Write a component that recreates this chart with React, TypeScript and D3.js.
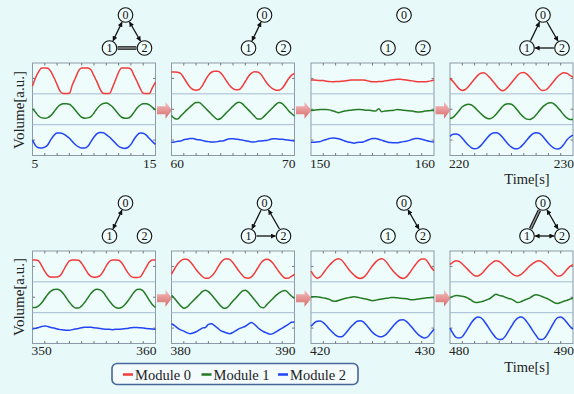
import { useEffect, useRef } from "react";
import * as d3 from "d3";

// start time of every 10 s window (panels left-to-right, top row then bottom row)
const starts = [5, 60, 150, 220, 350, 380, 420, 480];
const step = 0.25;

// band values, 0 = bottom of band, 100 = top of band
const p1Red = [25,52,72,84,84,83,72,52,30,8,1,1,2,30,52,75,84,84,84,78,58,38,15,2,1,1,20,45,70,84,84,84,80,60,40,18,2,1,1,20,38];
const p1Green = [52,40,28,22,21,23,30,42,55,64,68,68,66,58,46,34,24,21,22,26,38,52,63,69,70,66,58,46,34,24,21,21,27,40,54,63,68,68,64,56,48];
const p1Blue = [50,32,25,24,27,35,52,66,73,73,70,64,56,45,35,28,24,24,30,45,60,71,75,74,68,60,50,40,30,25,23,26,36,52,66,73,72,66,55,45,36];

const p2Red = [71,71,70,66,52,36,22,14,12,14,26,44,60,70,73,73,68,55,40,26,17,13,14,24,40,56,67,72,71,64,50,35,24,16,12,12,18,32,48,60,66];
const p2Green = [30,20,18,28,38,48,57,66,72,72,64,54,44,34,24,17,20,30,40,50,60,69,73,68,58,48,38,27,18,18,26,36,46,56,66,72,68,58,46,36,28];
const p2Blue = [43,44,46,47,51,53,55,55,52,51,49,46,45,44,44,45,47,48,52,54,54,53,52,50,48,46,44,44,46,47,48,49,52,54,54,53,53,51,50,49,47];

const p3Red = [45,45,44,43,43,41,40,39,40,40,41,42,43,45,45,45,45,45,43,41,39,39,40,40,42,43,45,46,47,47,46,45,43,42,40,39,39,39,40,42,45];
const p3Green = [46,47,48,49,49,49,48,45,42,39,42,44,46,47,48,49,49,48,47,47,45,44,52,42,44,45,46,47,49,48,47,46,45,44,42,41,42,44,45,46,46];
const p3Blue = [43,43,44,45,49,52,55,57,56,54,51,47,44,42,40,42,43,44,48,52,55,55,53,50,46,43,42,41,41,43,45,46,49,53,55,55,53,50,47,45,44];

const p4Red = [50,40,28,16,11,14,24,36,48,60,67,68,62,52,40,28,16,10,14,24,36,48,60,68,69,64,54,42,30,18,11,12,20,32,44,56,64,68,67,60,54];
const p4Green = [20,24,34,46,58,64,66,64,56,46,36,27,21,19,24,34,46,58,66,68,66,58,46,34,24,18,17,22,32,44,56,64,70,71,66,56,44,32,22,17,17];
const p4Blue = [62,69,70,66,56,44,33,25,22,24,32,44,56,67,73,74,70,60,48,36,27,22,22,28,38,50,62,71,74,72,64,52,40,30,23,21,25,36,50,60,66];

const p5Red = [71,71,68,52,34,20,15,16,16,20,36,54,68,71,71,70,60,44,28,18,15,16,20,34,52,66,71,71,70,62,46,30,18,14,14,16,30,48,64,71,71];
const p5Green = [17,17,22,32,46,60,70,75,76,72,62,48,34,22,15,15,22,34,48,62,72,76,74,66,52,38,26,17,14,17,26,38,52,66,75,76,70,56,40,26,17];
const p5Blue = [47,49,52,55,57,55,52,50,47,45,44,43,43,45,47,49,51,53,53,53,51,50,49,47,46,46,45,46,46,47,48,49,51,52,52,51,50,49,48,47,46];

const p6Red = [25,42,58,68,73,73,66,54,40,28,18,12,12,18,30,46,62,72,75,72,62,48,34,22,13,12,16,28,44,60,70,73,70,60,46,32,20,12,12,18,24];
const p6Green = [56,46,34,22,14,18,28,38,48,58,68,73,68,58,46,34,22,14,16,26,38,48,60,70,73,66,54,42,30,18,16,26,36,46,56,64,70,72,64,54,46];
const p6Blue = [64,58,50,44,40,35,32,34,38,44,50,52,62,64,58,50,42,38,34,32,36,42,48,52,56,63,68,62,52,44,38,34,30,32,38,44,50,56,62,69,70];

const p7Red = [35,20,12,16,28,42,54,64,72,75,70,58,44,32,22,14,11,14,24,38,52,64,72,75,70,58,44,32,22,14,11,16,28,42,56,68,74,74,64,48,36];
const p7Green = [52,52,51,50,48,46,43,38,37,40,43,46,48,50,52,50,48,46,44,41,39,40,43,44,46,47,49,49,48,47,46,45,43,42,43,44,46,47,48,49,49];
const p7Blue = [56,66,72,73,68,58,46,36,27,22,22,30,42,54,64,72,74,70,60,48,36,28,23,22,26,36,48,60,70,76,77,72,62,50,38,28,21,18,22,34,46];

const p8Red = [56,64,68,66,58,48,38,28,20,19,24,34,46,56,64,68,66,58,48,38,28,21,19,23,32,42,52,60,66,68,64,56,46,36,26,19,20,28,40,50,56];
const p8Green = [48,53,56,55,53,51,46,40,34,33,35,38,42,46,54,60,56,54,50,46,44,38,33,35,40,44,48,55,58,56,52,48,44,38,32,30,33,37,40,44,47];
const p8Blue = [50,32,20,18,22,36,52,68,80,86,84,74,60,44,30,18,13,14,24,40,56,72,82,86,82,70,56,40,26,14,13,20,36,54,72,84,86,80,68,56,46];

const series = [
  [p1Red, p1Green, p1Blue], [p2Red, p2Green, p2Blue], [p3Red, p3Green, p3Blue], [p4Red, p4Green, p4Blue],
  [p5Red, p5Green, p5Blue], [p6Red, p6Green, p6Blue], [p7Red, p7Green, p7Blue], [p8Red, p8Green, p8Blue],
];

// coupling graph above each panel: [from, to, kind]
const edges: [number, number, string][][] = [
  [[0, 1, "both"], [0, 2, "both"], [1, 2, "bar"]],
  [[0, 1, "both"]],
  [],
  [[1, 0, "one"], [0, 2, "one"], [2, 1, "one"]],
  [[0, 1, "both"]],
  [[0, 1, "one"], [1, 2, "one"], [2, 0, "one"]],
  [[0, 2, "both"]],
  [[0, 1, "bar"], [0, 2, "both"], [1, 2, "both"]],
];

const legendLabels = ["Module 0", "Module 1", "Module 2"];
const colors = ["#f23b3b", "#237a23", "#2244f5"];

const W = 574, H = 394;
const FONT = "'Liberation Serif', 'Times New Roman', 'DejaVu Serif', serif";

export default function App() {
  const svgRef = useRef<SVGSVGElement>(null);

  useEffect(() => {
    const svg = d3.select(svgRef.current);
    svg.selectAll("*").remove();

    svg.append("rect").attr("width", W).attr("height", H).attr("fill", "#e7f9f9");

    const defs = svg.append("defs");
    const grad = defs.append("linearGradient").attr("id", "pink").attr("x1", 0).attr("y1", 0).attr("x2", 0).attr("y2", 1);
    grad.append("stop").attr("offset", "0%").attr("stop-color", "#f6c0c0");
    grad.append("stop").attr("offset", "100%").attr("stop-color", "#d66a6a");
    defs.append("marker")
      .attr("id", "ah").attr("viewBox", "0 0 10 10").attr("refX", 9).attr("refY", 5)
      .attr("markerWidth", 5.5).attr("markerHeight", 5).attr("markerUnits", "userSpaceOnUse")
      .attr("orient", "auto-start-reverse")
      .append("path").attr("d", "M0,0 L10,5 L0,10 z").attr("fill", "#111");

    const pw = 123, ph = 92.5;
    const lefts = [32.5, 171.5, 311, 450];
    const tops = [63, 251];
    const nodeY = [[15, 48], [203, 236]];

    starts.forEach((t0, p) => {
      const row = Math.floor(p / 4), col = p % 4;
      const left = lefts[col], top = tops[row];
      const x = d3.scaleLinear().domain([t0, t0 + 10]).range([left, left + pw]);
      const g = svg.append("g");

      g.append("rect").attr("x", left).attr("y", top).attr("width", pw).attr("height", ph)
        .attr("fill", "#eefcfc").attr("stroke", "#8d9ba8").attr("stroke-width", 1);

      const bh = ph / 3;
      [1, 2].forEach((k) => {
        g.append("line").attr("x1", left).attr("x2", left + pw)
          .attr("y1", top + k * bh).attr("y2", top + k * bh)
          .attr("stroke", "#a6bad0").attr("stroke-width", 1);
      });

      // inner ticks
      d3.range(1, 10).forEach((s) => {
        const xx = x(t0 + s);
        g.append("line").attr("x1", xx).attr("x2", xx).attr("y1", top).attr("y2", top + 2.5).attr("stroke", "#777");
        g.append("line").attr("x1", xx).attr("x2", xx).attr("y1", top + ph).attr("y2", top + ph - 2.5).attr("stroke", "#777");
      });
      [0, 1, 2].forEach((k) => {
        const yy = top + k * bh + bh / 2;
        g.append("line").attr("x1", left).attr("x2", left + 2.5).attr("y1", yy).attr("y2", yy).attr("stroke", "#777");
        g.append("line").attr("x1", left + pw).attr("x2", left + pw - 2.5).attr("y1", yy).attr("y2", yy).attr("stroke", "#777");
      });

      series[p].forEach((vals, k) => {
        const y = d3.scaleLinear().domain([0, 100]).range([top + (k + 1) * bh, top + k * bh]);
        const ln = d3.line<number>()
          .x((_, i) => x(t0 + i * step))
          .y((v) => y(v))
          .curve(d3.curveMonotoneX);
        g.append("path").attr("d", ln(vals)).attr("fill", "none")
          .attr("stroke", colors[k]).attr("stroke-width", 1.5).attr("stroke-linejoin", "round");
      });

      const ly = row === 0 ? 168 : 355;
      g.append("text").attr("x", left - 1).attr("y", ly).text(t0)
        .style("font-family", FONT).attr("font-size", 13.5).attr("fill", "#222");
      g.append("text").attr("x", left + pw + 1).attr("y", ly).attr("text-anchor", "end").text(t0 + 10)
        .style("font-family", FONT).attr("font-size", 13.5).attr("fill", "#222");

      // block arrow to next panel
      if (col < 3) {
        const x0 = left + pw + 1.5, x1 = lefts[col + 1] + 0.5, cy = top + ph / 2 + 1;
        g.append("path")
          .attr("d", `M${x0},${cy - 4} L${x0 + 8.5},${cy - 4} L${x0 + 8.5},${cy - 8.5} L${x1},${cy} L${x0 + 8.5},${cy + 8.5} L${x0 + 8.5},${cy + 4} L${x0},${cy + 4} Z`)
          .attr("fill", "url(#pink)");
      }

      // network
      const R = left + pw;
      const nodes = [
        [R - 30, nodeY[row][0]],
        [R - 46, nodeY[row][1]],
        [R - 11, nodeY[row][1]],
      ];
      const r = 7.3;
      edges[p].forEach(([a, b, kind]) => {
        const [ax, ay] = nodes[a], [bx, by] = nodes[b];
        const d = Math.hypot(bx - ax, by - ay);
        const ux = (bx - ax) / d, uy = (by - ay) / d;
        const sx = ax + ux * (r + 0.8), sy = ay + uy * (r + 0.8);
        const ex = bx - ux * (r + 0.8), ey = by - uy * (r + 0.8);
        if (kind === "bar") {
          g.append("line").attr("x1", sx).attr("y1", sy).attr("x2", ex).attr("y2", ey)
            .attr("stroke", "#111").attr("stroke-width", 3.6);
          g.append("line").attr("x1", sx).attr("y1", sy).attr("x2", ex).attr("y2", ey)
            .attr("stroke", "#9a9a9a").attr("stroke-width", 1.4);
        } else {
          const l = g.append("line").attr("x1", sx).attr("y1", sy).attr("x2", ex).attr("y2", ey)
            .attr("stroke", "#111").attr("stroke-width", 1.3)
            .attr("marker-end", "url(#ah)");
          if (kind === "both") l.attr("marker-start", "url(#ah)");
        }
      });
      nodes.forEach(([nx, ny], k) => {
        g.append("circle").attr("cx", nx).attr("cy", ny).attr("r", r)
          .attr("fill", "#eefcfc").attr("stroke", "#111").attr("stroke-width", 1.1);
        g.append("text").attr("x", nx).attr("y", ny + 4).attr("text-anchor", "middle").text(k)
          .style("font-family", FONT).attr("font-size", 12).attr("fill", "#111");
      });
    });

    // axis titles
    [110, 297].forEach((cy) => {
      svg.append("text").attr("transform", `translate(24,${cy}) rotate(-90)`)
        .attr("text-anchor", "middle").text("Volume[a.u.]")
        .style("font-family", FONT).attr("font-size", 15).attr("fill", "#222");
    });
    [184, 372].forEach((by) => {
      svg.append("text").attr("x", 527).attr("y", by).attr("text-anchor", "middle").text("Time[s]")
        .style("font-family", FONT).attr("font-size", 14.5).attr("fill", "#222");
    });

    // legend
    const lg = svg.append("g");
    lg.append("rect").attr("x", 112).attr("y", 363.5).attr("width", 246).attr("height", 21).attr("rx", 5)
      .attr("fill", "#f3fbfd").attr("stroke", "#46679a").attr("stroke-width", 1.6);
    const lx = [123, 201.5, 278];
    legendLabels.forEach((lab, k) => {
      lg.append("line").attr("x1", lx[k]).attr("x2", lx[k] + 10).attr("y1", 374.5).attr("y2", 374.5)
        .attr("stroke", colors[k]).attr("stroke-width", 2.5);
      lg.append("text").attr("x", lx[k] + 12).attr("y", 379.5).text(lab)
        .style("font-family", FONT).attr("font-size", 14.5).attr("fill", "#222");
    });
  }, []);

  return (
    <svg ref={svgRef} width={W} height={H} style={{ position: "absolute", left: 0, top: 0 }} />
  );
}
